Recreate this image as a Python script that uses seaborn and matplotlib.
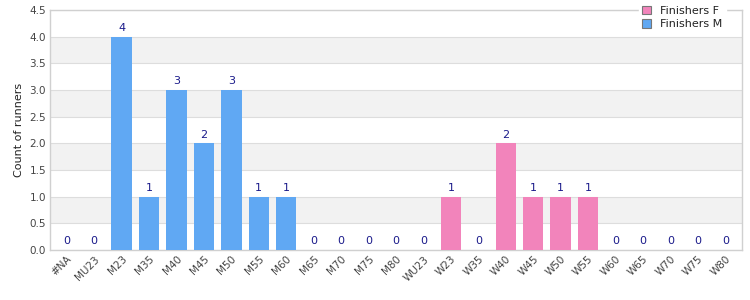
import pandas as pd
import matplotlib.pyplot as plt
import seaborn as sns

CATEGORIES = ["#NA", "MU23", "M23", "M35", "M40", "M45", "M50", "M55", "M60",
              "M65", "M70", "M75", "M80", "WU23", "W23", "W35", "W40", "W45",
              "W50", "W55", "W60", "W65", "W70", "W75", "W80"]
COUNTS = [0, 0, 4, 1, 3, 2, 3, 1, 1, 0, 0, 0, 0, 0, 1, 0, 2, 1, 1, 1, 0, 0, 0, 0, 0]
GROUPS = ["Finishers M"] * 13 + ["Finishers F"] * 12
HUE_ORDER = ["Finishers F", "Finishers M"]
PALETTE = {"Finishers F": "#f284bb", "Finishers M": "#60a8f3"}

df = pd.DataFrame({"category": CATEGORIES, "count": COUNTS, "group": GROUPS})

sns.set_style("white")
plt.rcParams["font.family"] = ["DejaVu Sans"]

fig = plt.figure(figsize=(7.5, 3), dpi=100)
ax = fig.add_axes([0.067, 0.167, 0.922, 0.8])

# alternating background bands
for lo in [0.5, 1.5, 2.5, 3.5]:
    ax.axhspan(lo, lo + 0.5, color="#f2f2f2", zorder=0, lw=0)

sns.barplot(data=df, x="category", y="count", hue="group", hue_order=HUE_ORDER,
            order=CATEGORIES, palette=PALETTE, dodge=False, width=0.74,
            saturation=1, linewidth=0, ax=ax, zorder=3)

for i, v in enumerate(COUNTS):
    ax.text(i, v + 0.07, str(v), ha="center", va="bottom", fontsize=8,
            color="#1a1a8a", zorder=4)

ax.set_ylim(0, 4.5)
ax.set_xlim(-0.6, len(CATEGORIES) - 0.4)
ax.set_yticks([0, 0.5, 1.0, 1.5, 2.0, 2.5, 3.0, 3.5, 4.0, 4.5])
ax.set_yticklabels([f"{t:.1f}" for t in ax.get_yticks()], fontsize=7.5, color="#444444")
ax.yaxis.grid(True, color="#dddddd", lw=0.8, zorder=1)
ax.set_axisbelow(True)
ax.set_xlabel("")
ax.set_ylabel("Count of runners", fontsize=8, color="#222222")
plt.setp(ax.get_xticklabels(), rotation=45, ha="right", rotation_mode="anchor",
         fontsize=7.5, color="#444444")
ax.tick_params(axis="both", length=0, pad=3)
for s in ax.spines.values():
    s.set_color("#d0d0d0")
    s.set_linewidth(1)

handles, labels = ax.get_legend_handles_labels()
ax.legend_.remove()
for h in handles:
    h.set_edgecolor("#777777")
    h.set_linewidth(0.8)
leg = fig.legend(handles, labels, loc="upper right", bbox_to_anchor=(0.975, 1.01),
                 fontsize=8, frameon=True, facecolor="white", edgecolor="white",
                 framealpha=1, handlelength=0.8, handleheight=0.8,
                 labelspacing=0.3, borderpad=0.3, handletextpad=0.8)
for t in leg.get_texts():
    t.set_color("#222222")

fig.savefig("out.png", dpi=100)
